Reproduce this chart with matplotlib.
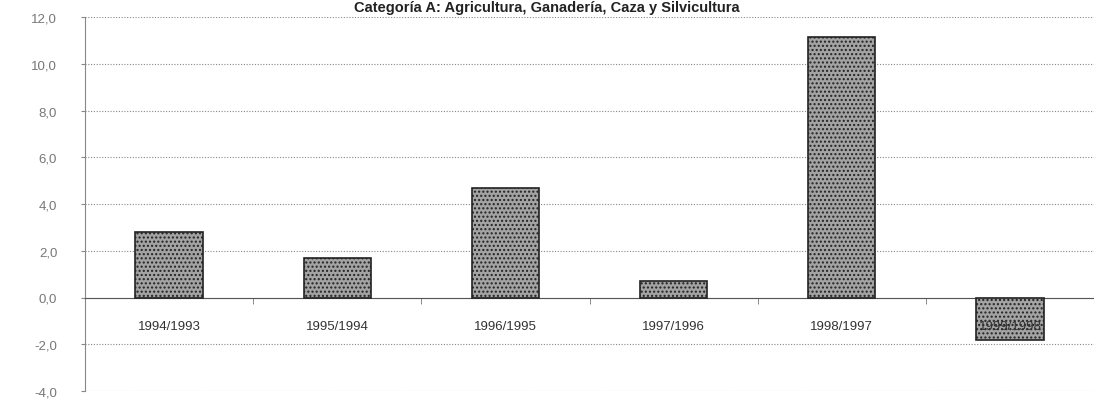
import matplotlib
matplotlib.use("Agg")
import matplotlib.pyplot as plt
import matplotlib.transforms as mtransforms
import numpy as np

plt.rcParams['font.family'] = ['Liberation Sans', 'DejaVu Sans']
plt.rcParams['hatch.color'] = '#d0d0d0'

title = "Categoría A: Agricultura, Ganadería, Caza y Silvicultura"
categories = ["1994/1993", "1995/1994", "1996/1995", "1997/1996", "1998/1997", "1999/1998"]
values = [2.8, 1.7, 4.7, 0.7, 11.15, -1.8]
yticks = [-4, -2, 0, 2, 4, 6, 8, 10, 12]
ytick_labels = ["-4,0", "-2,0", "0,0", "2,0", "4,0", "6,0", "8,0", "10,0", "12,0"]

fig = plt.figure(figsize=(10.94, 4.02), dpi=100)
ax = fig.add_axes([85/1094, 10/402, 1009/1094, 374/402])

x = np.arange(len(categories))
ax.bar(x, values, width=0.4, color="#a3a3a3", edgecolor="#222222", linewidth=1.2,
       hatch="....", zorder=3)

ax.set_xlim(-0.5, len(categories) - 0.5)
ax.set_ylim(-4, 12)
ax.set_yticks(yticks)
ax.set_yticklabels(ytick_labels, color="#777777", fontsize=9.5)
ax.yaxis.grid(True, linestyle=(0, (1, 1.5)), color="#888888", linewidth=0.8, zorder=0)

for s in ["top", "right"]:
    ax.spines[s].set_visible(False)
ax.spines["left"].set_linestyle((0, (1, 1)))
ax.spines["left"].set_color("#888888")
ax.spines["bottom"].set_position(("data", 0))
ax.spines["bottom"].set_linestyle((0, (1, 1)))
ax.spines["bottom"].set_color("#555555")

ax.set_xticks(x)
ax.set_xticklabels([])
ax.tick_params(axis="x", length=0)
ax.set_xticks(np.arange(0.5, len(categories) - 0.5, 1), minor=True)
ax.tick_params(axis="x", which="minor", length=4, color="#777777")
ax.tick_params(axis="y", length=3, color="#888888", pad=17)

trans = ax.transData + mtransforms.ScaledTranslation(0, -29/100, fig.dpi_scale_trans)
for xi, cat in zip(x, categories):
    ax.text(xi, 0, cat, transform=trans, ha="center", va="center", fontsize=9.5,
            color="#333333", zorder=6)

fig.text(0.5, 0.998, title, ha="center", va="top", fontsize=10.5, fontweight="bold",
         color="#222222")

fig.savefig("out.png", dpi=100)
